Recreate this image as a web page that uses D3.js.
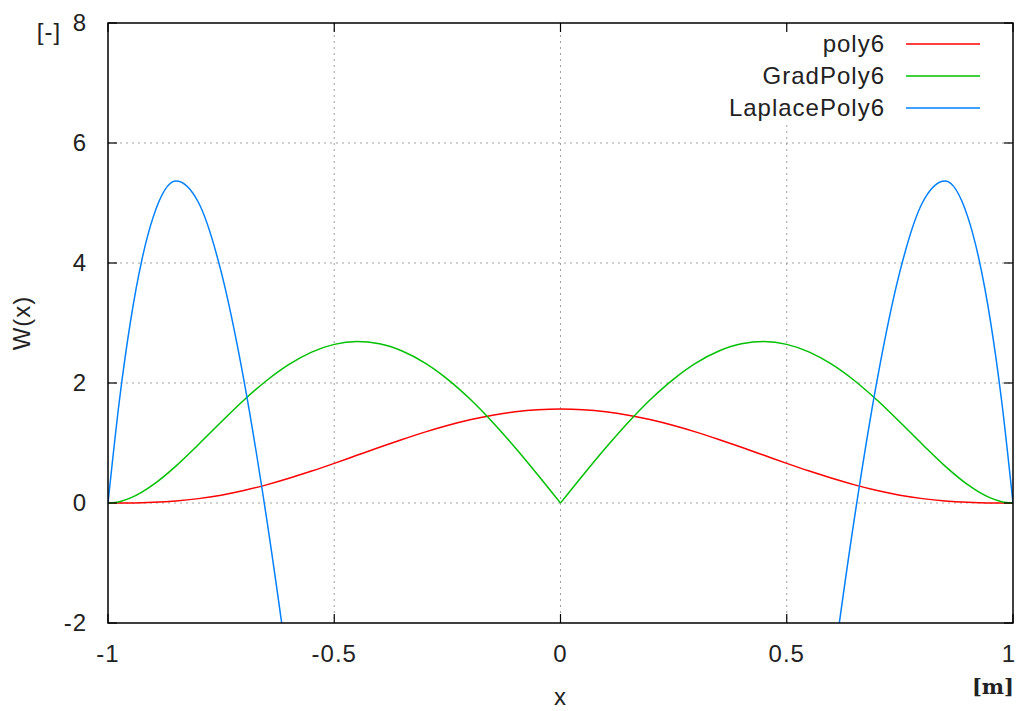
<!DOCTYPE html>
<html>
<head>
<meta charset="utf-8">
<script src="https://cdn.jsdelivr.net/npm/d3@7"></script>
<style>
  body { margin: 0; background: #fff; }
  svg { display: block; }
  text { font-family: "Liberation Sans", Arial, sans-serif; fill: #222; letter-spacing: 1px; }
</style>
</head>
<body>
<div id="chart"></div>
<script>
// sample positions (radius in m)
var xs = [-1, -0.975, -0.95, -0.925, -0.9, -0.85, -0.8, -0.75, -0.7, -0.65, -0.6, -0.55, -0.5, -0.45, -0.4, -0.35, -0.3, -0.25, -0.2, -0.15, -0.1, -0.05,
  0, 0.05, 0.1, 0.15, 0.2, 0.25, 0.3, 0.35, 0.4, 0.45, 0.5, 0.55, 0.6, 0.65, 0.7, 0.75, 0.8, 0.85, 0.9, 0.925, 0.95, 0.975, 1];

var poly6 = [0, 0.0002, 0.001, 0.005, 0.011, 0.033, 0.073, 0.131, 0.208, 0.302, 0.411, 0.532, 0.661, 0.795, 0.929, 1.059, 1.181, 1.291, 1.386, 1.463, 1.520, 1.555,
  1.567, 1.555, 1.520, 1.463, 1.386, 1.291, 1.181, 1.059, 0.929, 0.795, 0.661, 0.532, 0.411, 0.302, 0.208, 0.131, 0.073, 0.033, 0.011, 0.005, 0.001, 0.0002, 0];

var gradPoly6 = [0, 0.022, 0.085, 0.181, 0.305, 0.615, 0.975, 1.349, 1.712, 2.038, 2.310, 2.515, 2.644, 2.690, 2.653, 2.533, 2.335, 2.065, 1.733, 1.347, 0.921, 0.468,
  0, 0.468, 0.921, 1.347, 1.733, 2.065, 2.335, 2.533, 2.653, 2.690, 2.644, 2.515, 2.310, 2.038, 1.712, 1.349, 0.975, 0.615, 0.305, 0.181, 0.085, 0.022, 0];

var laplacePoly6 = [0, 1.696, 3.041, 4.057, 4.769, 5.367, 5.008, 3.856, 2.061, -0.231, -2.888, -5.786, -8.813, -11.863, -14.844, -17.672, -20.273, -22.582, -24.545, -26.118, -27.267, -27.965,
  -28.2, -27.965, -27.267, -26.118, -24.545, -22.582, -20.273, -17.672, -14.844, -11.863, -8.813, -5.786, -2.888, -0.231, 2.061, 3.856, 5.008, 5.367, 4.769, 4.057, 3.041, 1.696, 0];

var xTicks = [-1, -0.5, 0, 0.5, 1];
var yTicks = [-2, 0, 2, 4, 6, 8];
var seriesNames = ['poly6', 'GradPoly6', 'LaplacePoly6'];
var seriesColors = ['#ff0000', '#00c000', '#0080ff'];

var width = 1017, height = 711;
var plotL = 108, plotR = 1013, plotT = 23, plotB = 623;
var fontSize = '24px';

var svg = d3.select('#chart').append('svg')
  .attr('width', width)
  .attr('height', height);

var x = d3.scaleLinear().domain([-1, 1]).range([plotL, plotR]);
var y = d3.scaleLinear().domain([-2, 8]).range([plotB, plotT]);

svg.append('clipPath').attr('id', 'plotclip')
  .append('rect')
  .attr('x', plotL).attr('y', plotT)
  .attr('width', plotR - plotL).attr('height', plotB - plotT);

// grid
var grid = svg.append('g')
  .attr('stroke', '#a0a0a0')
  .attr('stroke-width', 1)
  .attr('stroke-dasharray', '2,4');
grid.selectAll('.gx')
  .data(xTicks.filter(function(d) { return d > -1 && d < 1; }))
  .enter().append('line')
  .attr('x1', function(d) { return x(d); })
  .attr('x2', function(d) { return x(d); })
  .attr('y1', plotT).attr('y2', plotB);
grid.selectAll('.gy')
  .data(yTicks.filter(function(d) { return d > -2 && d < 8; }))
  .enter().append('line')
  .attr('y1', function(d) { return y(d); })
  .attr('y2', function(d) { return y(d); })
  .attr('x1', plotL).attr('x2', plotR);

// key area is blanked
svg.append('rect')
  .attr('x', 715).attr('y', 28)
  .attr('width', 285).attr('height', 94)
  .attr('fill', '#fff');

// curves
var points = function(vals) {
  return xs.map(function(d, i) { return [d, vals[i]]; });
};
var line = d3.line()
  .x(function(d) { return x(d[0]); })
  .y(function(d) { return y(d[1]); })
  .curve(d3.curveMonotoneX);

var curves = svg.append('g')
  .attr('clip-path', 'url(#plotclip)')
  .attr('fill', 'none')
  .attr('stroke-width', 1.5);

curves.append('path')
  .attr('d', line(points(poly6)))
  .attr('stroke', seriesColors[0]);

// gradient has a cusp at 0, draw both halves
var g = points(gradPoly6);
curves.append('path')
  .attr('d', line(g.filter(function(d) { return d[0] <= 0; })))
  .attr('stroke', seriesColors[1]);
curves.append('path')
  .attr('d', line(g.filter(function(d) { return d[0] >= 0; })))
  .attr('stroke', seriesColors[1]);

curves.append('path')
  .attr('d', line(points(laplacePoly6)))
  .attr('stroke', seriesColors[2]);

// frame and ticks
svg.append('rect')
  .attr('x', plotL).attr('y', plotT)
  .attr('width', plotR - plotL).attr('height', plotB - plotT)
  .attr('fill', 'none')
  .attr('stroke', '#000')
  .attr('stroke-width', 1.5);

var tickLen = 9;
var ticks = svg.append('g').attr('stroke', '#000').attr('stroke-width', 1.2);
xTicks.forEach(function(d) {
  ticks.append('line').attr('x1', x(d)).attr('x2', x(d)).attr('y1', plotB).attr('y2', plotB - tickLen);
  ticks.append('line').attr('x1', x(d)).attr('x2', x(d)).attr('y1', plotT).attr('y2', plotT + tickLen);
});
yTicks.forEach(function(d) {
  ticks.append('line').attr('y1', y(d)).attr('y2', y(d)).attr('x1', plotL).attr('x2', plotL + tickLen);
  ticks.append('line').attr('y1', y(d)).attr('y2', y(d)).attr('x1', plotR).attr('x2', plotR - tickLen);
});

// tick labels
svg.selectAll('.xl')
  .data(xTicks)
  .enter().append('text')
  .attr('x', function(d, i) { return x(d) + (i === xTicks.length - 1 ? -4 : 0); })
  .attr('y', 662)
  .attr('text-anchor', 'middle')
  .attr('font-size', fontSize)
  .text(function(d) { return d; });

svg.selectAll('.yl')
  .data(yTicks)
  .enter().append('text')
  .attr('x', 87)
  .attr('y', function(d) { return y(d); })
  .attr('dy', '0.35em')
  .attr('text-anchor', 'end')
  .attr('font-size', fontSize)
  .text(function(d) { return d; });

// axis titles
svg.append('text')
  .attr('transform', 'translate(22,' + (plotT + plotB) / 2 + ') rotate(-90)')
  .attr('dy', '0.35em')
  .attr('text-anchor', 'middle')
  .attr('font-size', fontSize)
  .text('W(x)');

svg.append('text')
  .attr('x', (plotL + plotR) / 2)
  .attr('y', 705)
  .attr('text-anchor', 'middle')
  .attr('font-size', fontSize)
  .text('x');

svg.append('text')
  .attr('x', 49)
  .attr('y', 40)
  .attr('text-anchor', 'middle')
  .attr('font-size', fontSize)
  .text('[-]');

svg.append('text')
  .attr('x', 1014)
  .attr('y', 694)
  .attr('text-anchor', 'end')
  .attr('font-size', '21px')
  .attr('font-weight', 'bold')
  .style('letter-spacing', '0px')
  .style('font-family', '"DejaVu Serif", "Liberation Serif", serif')
  .text('[m]');

// key
var key = svg.append('g');
seriesNames.forEach(function(name, i) {
  var ky = 44 + i * 32;
  key.append('text')
    .attr('x', 885)
    .attr('y', ky)
    .attr('dy', '0.35em')
    .attr('text-anchor', 'end')
    .attr('font-size', fontSize)
    .text(name);
  key.append('line')
    .attr('x1', 906).attr('x2', 980)
    .attr('y1', ky).attr('y2', ky)
    .attr('stroke', seriesColors[i])
    .attr('stroke-width', 1.5);
});
</script>
</body>
</html>
